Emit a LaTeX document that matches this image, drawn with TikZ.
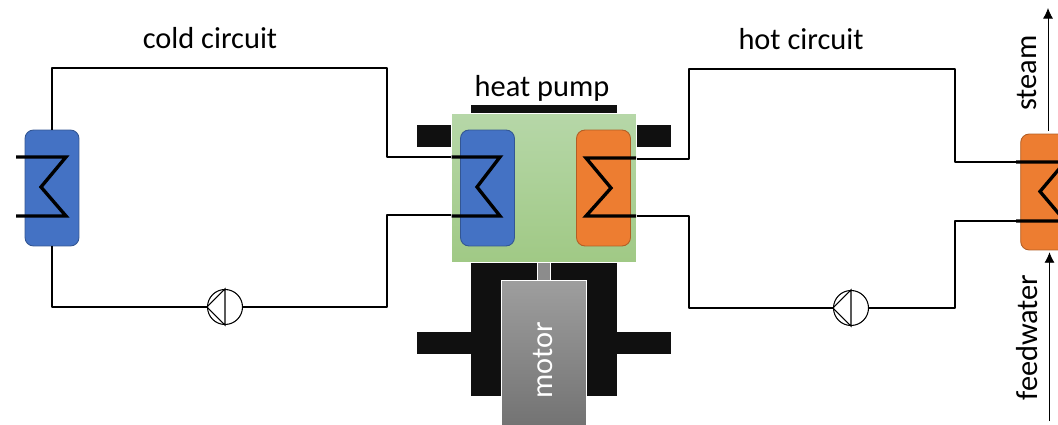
\documentclass[tikz,border=0pt]{standalone}
\usepackage{fontspec}
\setmainfont{Carlito}
\usetikzlibrary{arrows.meta}
\definecolor{coldblue}{HTML}{4472C4}
\definecolor{hotorange}{HTML}{ED7D31}
\definecolor{barblack}{HTML}{101010}
\definecolor{pumptop}{HTML}{B6D7A8}
\definecolor{pumpbottom}{HTML}{A0C985}
\tikzset{
  wire/.style={line width=1.15pt, black, line join=round},
  coil/.style={line width=1.9pt, black, line join=miter},
  hxbox/.style={draw=#1!75!black, line width=0.5pt, fill=#1, rounded corners=0.17cm, minimum width=1.08cm, minimum height=2.32cm, inner sep=0pt},
  pumpbody/.style={circle, draw=black, fill=white, line width=0.6pt, minimum size=0.7cm, inner sep=0pt},
  bar/.style={fill=barblack, draw=none},
  label/.style={font=\fontsize{17.3}{20}\selectfont, inner sep=0pt},
}
\begin{document}
\begin{tikzpicture}[x=0.02cm, y=-0.02cm]
  \clip (0,0) rectangle (1058,425);
  % black frame
  \fill[bar] (470.5,105) rectangle (617,113);
  \fill[bar] (416.5,125) rectangle (671,147);
  \fill[bar] (470.5,262) rectangle (617,396);
  \fill[bar] (416.5,332) rectangle (671,354);
  % heat pump and motor
  \node[draw=white, line width=0.4pt, inner sep=0pt, minimum width=3.7cm, minimum height=2.98cm, top color=pumptop, bottom color=pumpbottom] (pumpbox) at (543.75,188) {};
  \node[draw=white, line width=0.4pt, inner sep=0pt, minimum width=0.26cm, minimum height=0.36cm, fill=black!45] (shaft) at (543.5,271) {};
  \node[draw=white, line width=0.4pt, inner sep=0pt, minimum width=1.69cm, minimum height=3.1cm, top color=black!38, bottom color=black!56] (motorbox) at (544,357.5) {};
  % exchangers
  \node[hxbox=coldblue] (coldhx) at (52,188) {};
  \node[hxbox=coldblue] (pumpcold) at (487.5,188) {};
  \node[hxbox=hotorange] (pumphot) at (603.5,188) {};
  \node[hxbox=hotorange] (hothx) at (1047.7,192) {};
  % pumps
  \node[pumpbody] (coldpump) at (225,307) {};
  \node[pumpbody] (hotpump) at (851,308) {};
  % corner points
  \coordinate (c1) at (387,68);
  \coordinate (c2) at (387,157);
  \coordinate (c3) at (387,215);
  \coordinate (c4) at (387,307);
  \coordinate (h1) at (689,69);
  \coordinate (h2) at (689,159);
  \coordinate (h3) at (689,216);
  \coordinate (h4) at (689,308);
  \coordinate (h5) at (955,69);
  \coordinate (h6) at (955,162);
  \coordinate (h7) at (955,221);
  \coordinate (h8) at (955,308);
  % cold circuit
  \draw[wire] (coldhx.north) |- (c1) -- (c2) -- (pumpbox.west |- c2);
  \draw[wire] (pumpbox.west |- c3) -- (c3) -- (c4) -- (coldpump.east);
  \draw[wire] (coldpump.west) -| (coldhx.south);
  % hot circuit
  \draw[wire] (pumpbox.east |- h2) -- (h2) -- (h1) -- (h5) -- (h6) -- (hothx.west |- h6);
  \draw[wire] (pumpbox.east |- h3) -- (h3) -- (h4) -- (hotpump.west);
  \draw[wire] (hotpump.east) -- (h8) -- (h7) -- (hothx.west |- h7);
  % coils
  \draw[coil] (16,157) -- (66,157) -- (41,187) -- (66,216) -- (16,216);
  \draw[coil] (451.5,157) -- (500,157) -- (477,187) -- (500,216) -- (451.5,216);
  \draw[coil] (636,158) -- (586,158) -- (611,188) -- (586,216) -- (636,216);
  \draw[coil] (1016,162) -- (1065,162) -- (1040,191.5) -- (1065,221) -- (1016,221);
  % pump symbols
  \foreach \p in {coldpump,hotpump} {
    \draw[line width=0.6pt] (\p.north) -- (\p.south) -- (\p.west) -- cycle;
  }
  % water and steam
  \coordinate (steamtip) at (1048,8);
  \coordinate (feedend) at (1049.5,421);
  \draw[-{Latex[length=6pt,width=5.7pt]}, line width=0.5pt] (hothx.north -| steamtip) ++(0,-3) -- (steamtip);
  \draw[-{Latex[length=6pt,width=5.7pt]}, line width=0.5pt] (feedend) -- ([yshift=-1pt]hothx.south -| feedend);
  % labels
  \node[label] (coldlabel) at (210,38) {cold circuit};
  \node[label] (hotlabel) at (801,39) {hot circuit};
  \node[label] (pumplabel) at (542,88) {heat pump};
  \node[label, rotate=90, text=white] (motorlabel) at (543,360) {motor};
  \node[label, rotate=90] (steamlabel) at (1027,73) {steam};
  \node[label, rotate=90] (feedlabel) at (1027,337.5) {feedwater};
\end{tikzpicture}
\end{document}
